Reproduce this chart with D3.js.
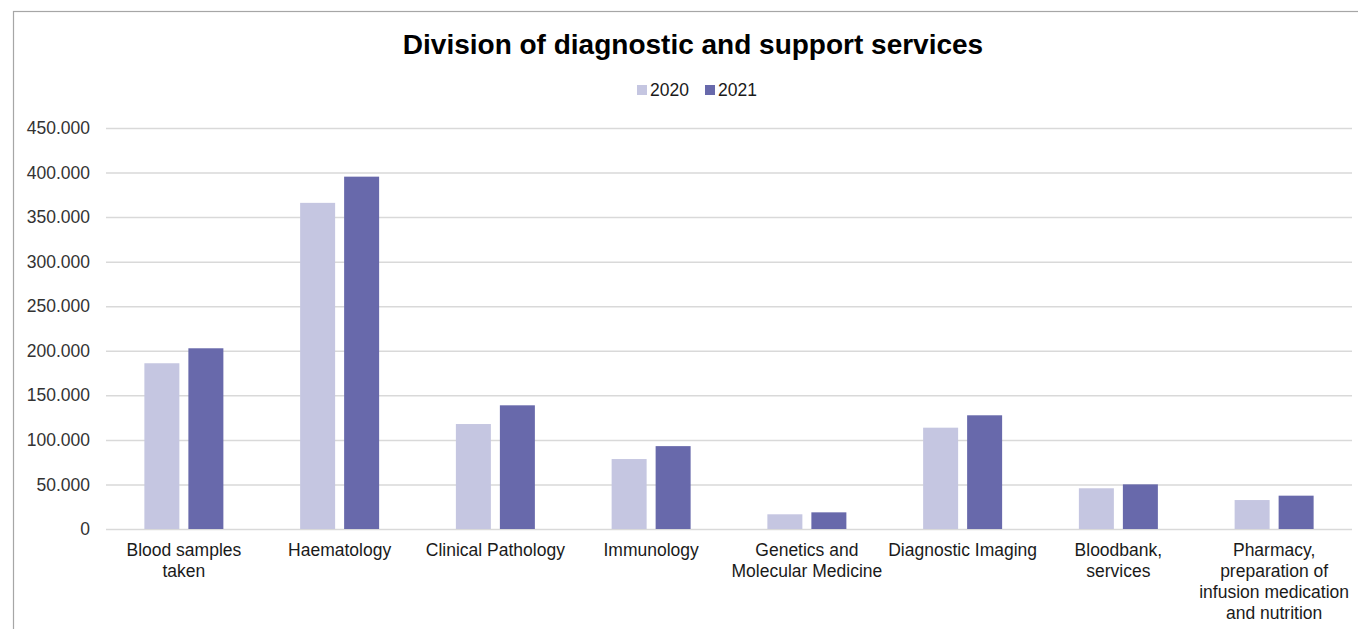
<!DOCTYPE html>
<html><head><meta charset="utf-8">
<script src="https://cdn.jsdelivr.net/npm/d3@7"></script>
<style>body{margin:0;background:#fff}svg{display:block;font-family:"Liberation Sans",Arial,sans-serif}</style>
</head><body><svg id="c" width="1358" height="629"></svg>
<script>
const categories = ["Blood samples\ntaken","Haematology","Clinical Pathology","Immunology","Genetics and\nMolecular Medicine","Diagnostic Imaging","Bloodbank,\nservices","Pharmacy,\npreparation of\ninfusion medication\nand nutrition"];
const seriesNames = ["2020","2021"];
const values2020 = [186000,366000,117800,78500,16500,113700,45700,32500];
const values2021 = [202800,395400,138800,93000,18700,127600,50100,37400];
const yTicks = [0,50000,100000,150000,200000,250000,300000,350000,400000,450000];
const colors = ["#c5c6e1","#6869ab"];

const svg = d3.select("#c");
const W=1358,H=629;
svg.append("rect").attr("x",13.5).attr("y",11.5).attr("width",W).attr("height",H).attr("fill","#fff").attr("stroke","#a6a6a6").attr("stroke-width",1.2);

const m={l:106,r:1352,t:128,b:529};
const x=d3.scaleBand().domain(categories).range([m.l,m.r]);
const y=d3.scaleLinear().domain([0,450000]).range([m.b,m.t]);
const fmt=v=>v===0?"0":d3.format(",")(v).replace(/,/g,".");

// grid
const yAxis=d3.axisLeft(y).tickValues(yTicks).tickFormat(fmt).tickSize(-(m.r-m.l)).tickPadding(16);
const ga=svg.append("g").attr("transform",`translate(${m.l},0)`).call(yAxis);
ga.select(".domain").remove();
ga.selectAll(".tick line").attr("stroke","#d9d9d9").attr("stroke-width",1.5);
ga.selectAll(".tick text").attr("fill","#333").attr("font-size","17.5px").attr("font-family","Liberation Sans, Arial, sans-serif");

// bars
const bw=35, gap=9;
const data=categories.map((c,i)=>({c,v:[values2020[i],values2021[i]]}));
const g=svg.append("g");
data.forEach(d=>{
  d.v.forEach((v,k)=>{
    const cx=x(d.c)+x.bandwidth()/2;
    const x0 = k===0 ? cx-gap/2-bw : cx+gap/2;
    g.append("rect").attr("x",x0).attr("y",y(v)).attr("width",bw).attr("height",y(0)-y(v)).attr("fill",colors[k]);
  });
});

// category labels
const lab=svg.append("g");
categories.forEach(c=>{
  const lines=c.split("\n");
  const t=lab.append("text").attr("text-anchor","middle").attr("font-size","17.5px").attr("fill","#1a1a1a");
  lines.forEach((ln,i)=>t.append("tspan").attr("x",x(c)+x.bandwidth()/2).attr("y",556+i*21).text(ln));
});

// title
svg.append("text").attr("x",693).attr("y",54).attr("text-anchor","middle").attr("font-weight","bold").attr("font-size","28px").attr("fill","#000").text("Division of diagnostic and support services");

// legend
const leg=svg.append("g");
const lx=[637,705];
seriesNames.forEach((s,i)=>{
  leg.append("rect").attr("x",lx[i]).attr("y",85).attr("width",10).attr("height",10).attr("fill",colors[i]);
  leg.append("text").attr("x",lx[i]+13).attr("y",96).attr("font-size","17.5px").attr("fill","#1a1a1a").text(s);
});
</script></body></html>
